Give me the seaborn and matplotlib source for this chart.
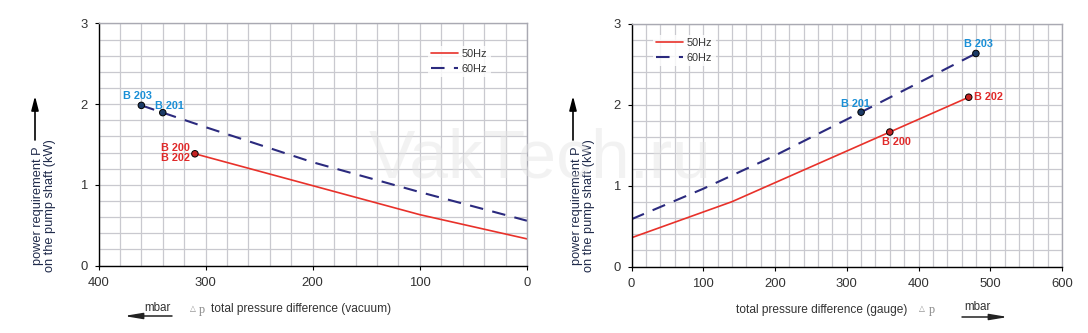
import numpy as np
import pandas as pd
import seaborn as sns
import matplotlib.pyplot as plt

# ---------------- data ----------------
vac_50_dp = [310, 100, 0]
vac_50_p = [1.385, 0.63, 0.33]
vac_60_dp = [360, 340, 300, 200, 100, 0]
vac_60_p = [1.985, 1.895, 1.715, 1.28, 0.91, 0.555]

gauge_50_dp = [0, 140, 360, 470]
gauge_50_p = [0.355, 0.80, 1.66, 2.09]
gauge_60_dp = [0, 100, 200, 320, 480]
gauge_60_p = [0.584, 0.96, 1.37, 1.905, 2.63]

vac_pt_labels = ["B 203", "B 201", "B 200\nB 202"]
vac_pt_dp = [360, 340, 310]
vac_pt_p = [1.985, 1.895, 1.385]
vac_pt_kind = ["60", "60", "50"]

gauge_pt_labels = ["B 203", "B 201", "B 200", "B 202"]
gauge_pt_dp = [480, 320, 360, 470]
gauge_pt_p = [2.63, 1.905, 1.66, 2.09]
gauge_pt_kind = ["60", "60", "50", "50"]

vac_ticks = [400, 300, 200, 100, 0]
gauge_ticks = [0, 100, 200, 300, 400, 500, 600]
p_ticks = [0, 1, 2, 3]
series_names = ["50Hz", "60Hz"]

# ---------------- style ----------------
sns.set_theme(style="white")
plt.rcParams['font.family'] = ['Liberation Sans', 'DejaVu Sans']

RED = "#e8312a"
NAVY = "#2b2a7e"
LBL_BLUE = "#1a8fd6"
LBL_RED = "#e02a2a"
GRID = "#c9c9cf"
TXT = "#333333"

fig = plt.figure(figsize=(10.88, 3.33), dpi=100)
W, H = 1088, 333
def rect(x0, x1, y0, y1):
    return [x0 / W, 1 - y1 / H, (x1 - x0) / W, (y1 - y0) / H]

axL = fig.add_axes(rect(98.5, 527, 23.5, 265.5))
axR = fig.add_axes(rect(631.5, 1062, 23.5, 266.5))

def style_axes(ax, xmax):
    ax.set_ylim(0, 3)
    ax.set_yticks(p_ticks)
    ax.set_yticks(np.arange(0, 3.01, 0.2), minor=True)
    ax.set_xticks(np.arange(0, xmax + 1, 20), minor=True)
    ax.grid(True, which="both", color=GRID, linewidth=0.9)
    ax.set_axisbelow(True)
    for s in ["left", "bottom"]:
        ax.spines[s].set_color("black")
        ax.spines[s].set_linewidth(1.0)
    for s in ["top", "right"]:
        ax.spines[s].set_color("#a9a9b2")
        ax.spines[s].set_linewidth(1.0)
    ax.tick_params(which="major", direction="out", length=3, width=0.8,
                   color="black", labelsize=9.4, labelcolor=TXT, pad=5,
                   bottom=True, left=True)
    ax.tick_params(which="minor", length=0)

def draw(ax, x50, y50, x60, y60):
    sns.lineplot(x=x50, y=y50, ax=ax, color=RED, linewidth=1.2,
                 label=series_names[0], estimator=None, sort=False)
    sns.lineplot(x=x60, y=y60, ax=ax, color=NAVY, linewidth=1.5,
                 label=series_names[1], estimator=None, sort=False)
    ax.lines[-1].set_dashes([6.5, 4.5])

def points(ax, xs, ys, kinds, labels, offsets, aligns):
    df = pd.DataFrame({"x": xs, "y": ys, "k": kinds})
    sns.scatterplot(data=df, x="x", y="y", hue="k",
                    palette={"60": "#1b3a66", "50": "#c42222"},
                    edgecolor="black", linewidth=0.7, s=22, ax=ax,
                    legend=False, zorder=5)
    for x, y, k, lab, off, al in zip(xs, ys, kinds, labels, offsets, aligns):
        ax.annotate(lab, (x, y), xytext=off, textcoords="offset pixels",
                    ha=al, va="center", fontsize=7.8, fontweight="bold",
                    color=LBL_BLUE if k == "60" else LBL_RED,
                    linespacing=1.0, zorder=6)
    ax.set_xlabel("")
    ax.set_ylabel("")

# left: vacuum
draw(axL, vac_50_dp, vac_50_p, vac_60_dp, vac_60_p)
style_axes(axL, 400)
axL.set_xlim(400, 0)
axL.set_xticks(vac_ticks)
points(axL, vac_pt_dp, vac_pt_p, vac_pt_kind, vac_pt_labels,
       [(-4, 9), (7, 7), (-5, 1)], ["center", "center", "right"])

# right: gauge
draw(axR, gauge_50_dp, gauge_50_p, gauge_60_dp, gauge_60_p)
style_axes(axR, 600)
axR.set_xlim(0, 600)
axR.set_xticks(gauge_ticks)
points(axR, gauge_pt_dp, gauge_pt_p, gauge_pt_kind, gauge_pt_labels,
       [(3, 9), (-6, 8), (7, -10), (5, 0)], ["center", "center", "center", "left"])

for ax, anchor, loc in [(axL, (0.928, 0.93), "upper right"), (axR, (0.037, 0.975), "upper left")]:
    leg = ax.legend(loc=loc, bbox_to_anchor=anchor, fontsize=7.8, frameon=True,
                    handlelength=2.5, handletextpad=0.35, labelspacing=0.45,
                    borderpad=0.3, fancybox=False)
    leg.get_frame().set_edgecolor("none")
    leg.get_frame().set_facecolor("white")
    for t in leg.get_texts():
        t.set_color(TXT)

ov = fig.add_axes([0, 0, 1, 1], facecolor="none")
ov.set_axis_off()
ov.set_xlim(0, W); ov.set_ylim(H, 0)

# y labels with arrows
ylab = "power requirement P\non the pump shaft (kW)"
for xc, xa in [(44, 35), (583, 573)]:
    ov.text(xc, 206, ylab, rotation=90, ha="center", va="center",
            fontsize=9.2, color="#1f2a4a", linespacing=1.1)
    ov.annotate("", xy=(xa, 96), xytext=(xa, 140),
                arrowprops=dict(arrowstyle="-|>,head_length=0.7,head_width=0.18",
                                color="black", lw=1.2, shrinkA=0, shrinkB=0))

# x labels
ov.text(211, 309, "total pressure difference (vacuum)", ha="left", va="center",
        fontsize=8.6, color=TXT)
ov.text(193, 308, "\u25b3", ha="center", va="center", fontsize=5.5, color="#8a8a8a",
        family="DejaVu Sans")
ov.text(202, 310, "p", ha="center", va="center", fontsize=8.8, color="#8a8a8a",
        family="Liberation Serif")
ov.text(157, 308, "mbar", ha="center", va="center", fontsize=8.4, color=TXT)
ov.annotate("", xy=(124, 316), xytext=(172, 316),
            arrowprops=dict(arrowstyle="-|>,head_length=0.9,head_width=0.15",
                            color="#222222", lw=1.1, shrinkA=0, shrinkB=0))

ov.text(736, 310, "total pressure difference (gauge)", ha="left", va="center",
        fontsize=8.6, color=TXT)
ov.text(922, 308, "\u25b3", ha="center", va="center", fontsize=5.5, color="#8a8a8a",
        family="DejaVu Sans")
ov.text(932, 310, "p", ha="center", va="center", fontsize=8.8, color="#8a8a8a",
        family="Liberation Serif")
ov.text(977, 307, "mbar", ha="center", va="center", fontsize=8.4, color=TXT)
ov.annotate("", xy=(1008, 317), xytext=(962, 317),
            arrowprops=dict(arrowstyle="-|>,head_length=0.9,head_width=0.15",
                            color="#222222", lw=1.1, shrinkA=0, shrinkB=0))

# watermark
ov.text(540, 177, "VakTech.ru", ha="center", va="baseline", fontsize=50,
        color="#e4e4e4", alpha=0.45, zorder=10)

fig.savefig("out.png", dpi=100)
